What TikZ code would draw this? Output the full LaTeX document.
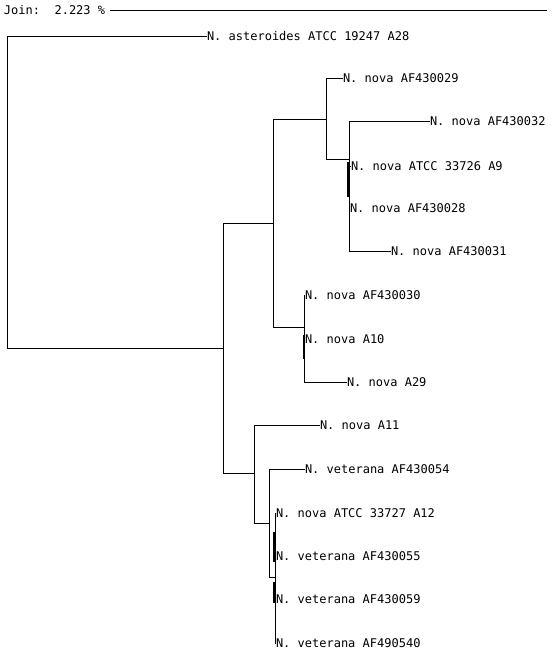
\documentclass[tikz,border=0pt]{standalone}
\usepackage{fontspec}
\setmonofont{DejaVu Sans Mono}
\usetikzlibrary{positioning}

\begin{document}
\begin{tikzpicture}[x=1pt, y=-1pt, line width=0.8pt, every node/.style={inner sep=0,outer sep=0, anchor=west, font=\ttfamily\fontsize{12}{14}\selectfont, text height=8.75pt, text depth=0pt}]
		\useasboundingbox (0,0) rectangle (556,655);

		%Nodes
		\node[draw=none,fill=none] (0)  at (4,10)    {Join:~~2.223 \%};
		\node[draw=none,fill=none] (1)  at (207,36)  {N. asteroides ATCC 19247 A28};
		\node[draw=none,fill=none] (2)  at (343,78)  {N. nova AF430029};
		\node[draw=none,fill=none] (3)  at (430,121) {N. nova AF430032};
		\node[draw=none,fill=none] (4)  at (351,166) {N. nova ATCC 33726 A9};
		\node[draw=none,fill=none] (5)  at (350,208) {N. nova AF430028};
		\node[draw=none,fill=none] (6)  at (391,251) {N. nova AF430031};
		\node[draw=none,fill=none] (7)  at (305,295) {N. nova AF430030};
		\node[draw=none,fill=none] (8)  at (305,339) {N. nova A10};
		\node[draw=none,fill=none] (9)  at (347,382) {N. nova A29};
		\node[draw=none,fill=none] (10) at (320,425) {N. nova A11};
		\node[draw=none,fill=none] (11) at (305,469) {N. veterana AF430054};
		\node[draw=none,fill=none] (12) at (276,513) {N. nova ATCC 33727 A12};
		\node[draw=none,fill=none] (13) at (276,556) {N. veterana AF430055};
		\node[draw=none,fill=none] (14) at (276,599) {N. veterana AF430059};
		\node[draw=none,fill=none] (15) at (276,643) {N. veterana AF490540};

		%Forks
		\coordinate (0e) at (547,10);
		\coordinate (r) at (7,348);
		\coordinate (a) at (223,348);
		\coordinate (b) at (273,223);
		\coordinate (c) at (326,119);
		\coordinate (d) at (349,159);
		\coordinate (e) at (304,327);
		\coordinate (f) at (254,473);
		\coordinate (g) at (269,523);
		\coordinate (h) at (275,577);
		\coordinate (d1) at (348,162);
		\coordinate (d2) at (348,197);
		\coordinate (e1) at (304,335);
		\coordinate (e2) at (304,359);
		\coordinate (h1) at (274,532);
		\coordinate (h2) at (274,562);
		\coordinate (h3) at (274,582);
		\coordinate (h4) at (274,603);

		%Lines
		\draw ([xshift=5]0.east) -- (0e);
		\draw (r) |- (1.west);
		\draw (r) -- (a);
		\draw (a) |- (b);
		\draw (a) |- (f);
		\draw (b) |- (c);
		\draw (b) |- (e);
		\draw (c) |- (2.west);
		\draw (c) |- (d);
		\draw (d) |- (3.west);
		\draw (d) |- (4.west);
		\draw (d) |- (5.west);
		\draw (d) |- (6.west);
		\draw (e) |- (7.west);
		\draw (e) |- (8.west);
		\draw (e) |- (9.west);
		\draw (f) |- (10.west);
		\draw (f) |- (g);
		\draw (g) |- (11.west);
		\draw (g) |- (h);
		\draw (h) |- (12.west);
		\draw (h) |- (13.west);
		\draw (h) |- (14.west);
		\draw (h) |- (15.west);
		\draw[line width=2pt] (d1) -- (d2);
		\draw[line width=2pt] (e1) -- (e2);
		\draw[line width=2pt] (h1) -- (h2);
		\draw[line width=2pt] (h3) -- (h4);
	\end{tikzpicture}
\end{document}
